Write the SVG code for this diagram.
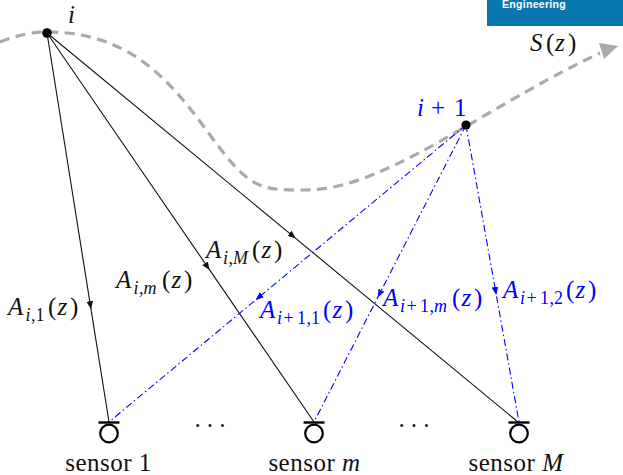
<svg xmlns="http://www.w3.org/2000/svg" width="623" height="475" viewBox="0 0 623 475">
<style>
.m{font-family:"Liberation Serif",serif;font-size:25px;}
.it{font-style:italic;}
.sb{font-size:18px;}
.blk{fill:#111;}
.blu{fill:#0000ff;}
.cb{fill:none;stroke:#111;stroke-width:1.1;marker-mid:url(#ak);}
.cu{fill:none;stroke:#0000ff;stroke-width:1.1;stroke-dasharray:7 3 1.5 3;marker-mid:url(#au);}
.sen circle{fill:#fff;stroke:#000;stroke-width:2.2;}
.sen line{stroke:#000;stroke-width:2.4;}
.sl{font-size:25px;letter-spacing:0.5px;text-anchor:middle;}
</style>
<defs>
<marker id="ak" markerUnits="userSpaceOnUse" markerWidth="10" markerHeight="8" refX="8" refY="4" orient="auto"><path d="M0,0.7 L8,4 L0,7.3 Z" fill="#111"/></marker>
<marker id="au" markerUnits="userSpaceOnUse" markerWidth="10" markerHeight="8" refX="8" refY="4" orient="auto"><path d="M0,0.7 L8,4 L0,7.3 Z" fill="#0000ff"/></marker>
</defs>
<rect width="623" height="475" fill="#fff"/>

<g id="banner">
<rect x="487" y="-2" width="140" height="28" fill="#0a76b0"/>
<text x="502" y="8" font-family="Liberation Sans,sans-serif" font-weight="bold" font-size="10.5" letter-spacing="0.3" fill="#fff">Engineering</text>
</g>

<g id="signal">
<path d="M0 42 C15 36,30 32,47 32 C130 32,170 80,210 135 S260 190,305 190 S400 165,465 127 S560 72,600 53" fill="none" stroke="#aaa" stroke-width="3.2" stroke-dasharray="10 6.5"/>
<polygon points="618,46 599,43 604,59" fill="#aaa"/>
<text class="m blk" y="51"><tspan class="it" x="530">S</tspan><tspan x="546">(</tspan><tspan class="it" x="555">z</tspan><tspan x="568">)</tspan></text>
</g>

<g id="connectors">
<path class="cb" d="M47 33 L91.0 309.2 L109 422"/>
<path class="cb" d="M47 33 L209.6 269.9 L314 422"/>
<path class="cb" d="M47 33 L295.7 238.4 L518 422"/>
<path class="cu" d="M466 125 L255.7 299.9 L109 422"/>
<path class="cu" d="M466 125 L377.8 297.3 L314 422"/>
<path class="cu" d="M466 125 L496.3 294.9 L519 422"/>
</g>

<g id="connector-labels">
<text class="m blk" y="315"><tspan class="it" x="8">A</tspan><tspan class="sb it" x="25.5" y="321">i</tspan><tspan class="sb" x="31">,</tspan><tspan class="sb" x="35.5">1</tspan><tspan x="48" y="315">(</tspan><tspan class="it" x="57.5">z</tspan><tspan x="70">)</tspan></text>
<text class="m blk" y="288"><tspan class="it" x="116">A</tspan><tspan class="sb it" x="133.5" y="294">i</tspan><tspan class="sb" x="139">,</tspan><tspan class="sb it" x="143.5">m</tspan><tspan x="162" y="288">(</tspan><tspan class="it" x="171.5">z</tspan><tspan x="184">)</tspan></text>
<text class="m blk" y="258"><tspan class="it" x="206">A</tspan><tspan class="sb it" x="223" y="264">i</tspan><tspan class="sb" x="228.5">,</tspan><tspan class="sb it" x="233">M</tspan><tspan x="252" y="258">(</tspan><tspan class="it" x="261.5">z</tspan><tspan x="274">)</tspan></text>
<text class="m blu" y="318"><tspan class="it" x="260">A</tspan><tspan class="sb it" x="277" y="324">i</tspan><tspan class="sb" x="283.5">+</tspan><tspan class="sb" x="297">1</tspan><tspan class="sb" x="306.5">,</tspan><tspan class="sb" x="311">1</tspan><tspan x="323" y="318">(</tspan><tspan class="it" x="332.5">z</tspan><tspan x="345">)</tspan></text>
<text class="m blu" y="306"><tspan class="it" x="383">A</tspan><tspan class="sb it" x="400" y="312">i</tspan><tspan class="sb" x="406.5">+</tspan><tspan class="sb" x="420">1</tspan><tspan class="sb" x="429.5">,</tspan><tspan class="sb it" x="434">m</tspan><tspan x="452" y="306">(</tspan><tspan class="it" x="461.5">z</tspan><tspan x="474">)</tspan></text>
<text class="m blu" y="298"><tspan class="it" x="503">A</tspan><tspan class="sb it" x="520" y="304">i</tspan><tspan class="sb" x="526.5">+</tspan><tspan class="sb" x="540">1</tspan><tspan class="sb" x="549.5">,</tspan><tspan class="sb" x="554">2</tspan><tspan x="566" y="298">(</tspan><tspan class="it" x="575.5">z</tspan><tspan x="588">)</tspan></text>
</g>

<g id="node-i">
<circle cx="47" cy="33" r="4.8" fill="#000"/>
<text class="m blk it" x="68" y="23">i</text>
</g>

<g id="node-i1">
<circle cx="466" cy="125" r="4.6" fill="#000"/>
<text class="m blu" y="116"><tspan class="it" x="417">i</tspan><tspan x="431">+</tspan><tspan x="454">1</tspan></text>
</g>

<g id="sensor-1" class="sen">
<line x1="98.5" y1="422.5" x2="119.5" y2="422.5"/>
<circle cx="109" cy="433.5" r="8.8"/>
<text class="m blk sl" x="108.5" y="471">sensor 1</text>
</g>

<g id="sensor-m" class="sen">
<line x1="303.5" y1="422.5" x2="324.5" y2="422.5"/>
<circle cx="314" cy="433.5" r="8.8"/>
<text class="m blk sl" x="314.5" y="471">sensor <tspan class="it">m</tspan></text>
</g>

<g id="sensor-M" class="sen">
<line x1="508.5" y1="422.5" x2="529.5" y2="422.5"/>
<circle cx="519" cy="433.5" r="8.8"/>
<text class="m blk sl" x="516" y="471">sensor <tspan class="it">M</tspan></text>
</g>

<g id="ellipses">
<text class="m blk" x="212" y="434" text-anchor="middle" font-size="22" letter-spacing="4">···</text>
<text class="m blk" x="416" y="434" text-anchor="middle" font-size="22" letter-spacing="4">···</text>
</g>
</svg>
